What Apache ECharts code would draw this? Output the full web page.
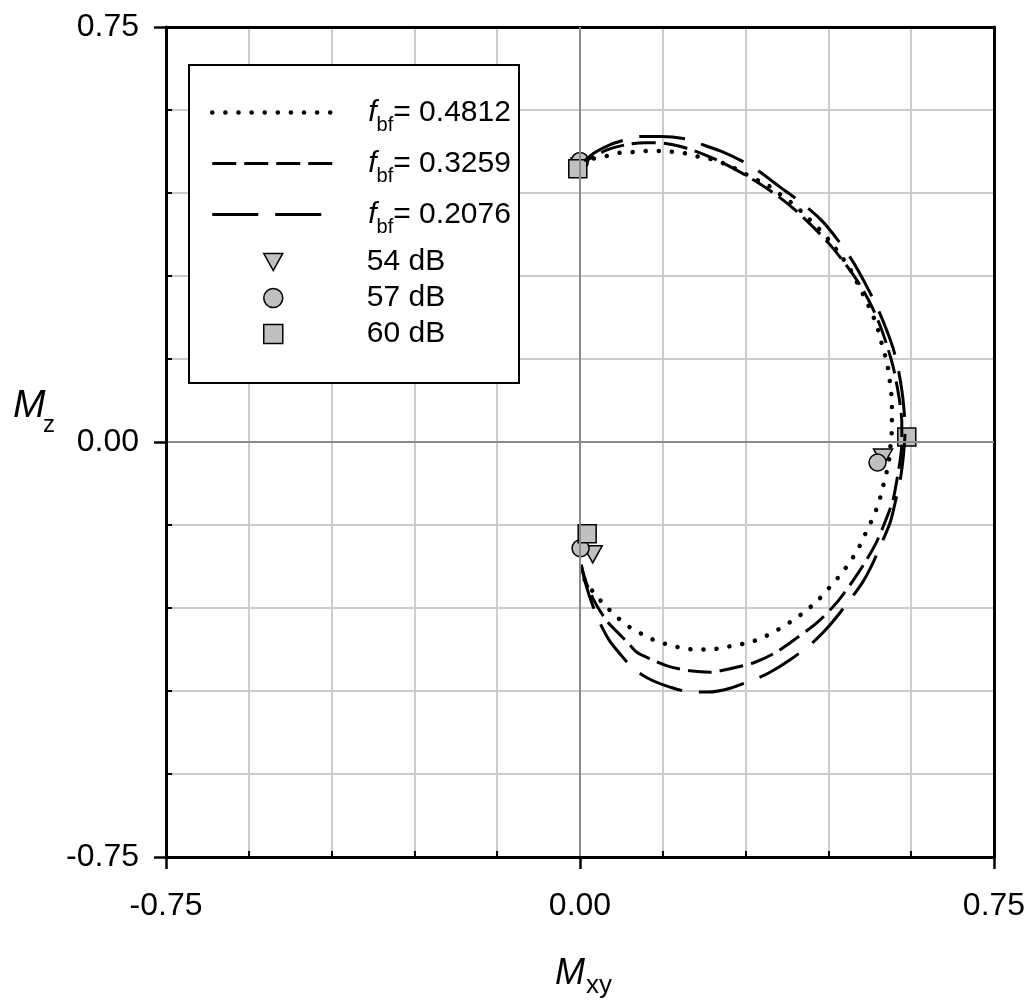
<!DOCTYPE html>
<html>
<head>
<meta charset="utf-8">
<script src="https://cdn.jsdelivr.net/npm/echarts@6/dist/echarts.min.js"></script>
<style>
html, body { margin: 0; padding: 0; background: #fff; }
#chart { width: 1031px; height: 1005px; }
</style>
</head>
<body>
<div id="chart"></div>
<script>
// axis range and steps
var axisMin = -0.75, axisMax = 0.75;
var majorStep = 0.75, minorStep = 0.15;

// legend labels
var fbfLabels = ['0.4812', '0.3259', '0.2076'];
var dbLabels = ['54 dB', '57 dB', '60 dB'];

// f_bf = 0.4812 (dotted)
var curve4812 = [
  [0.002,-0.226],[0.007,-0.246],[0.024,-0.271],[0.045,-0.295],[0.069,-0.318],[0.092,-0.336],
  [0.116,-0.349],[0.139,-0.360],[0.163,-0.367],[0.188,-0.373],[0.212,-0.375],[0.236,-0.375],
  [0.261,-0.371],[0.284,-0.367],[0.308,-0.362],[0.332,-0.353],[0.357,-0.340],[0.380,-0.326],
  [0.404,-0.309],[0.429,-0.288],[0.451,-0.264],[0.471,-0.241],[0.489,-0.217],[0.504,-0.193],
  [0.516,-0.168],[0.527,-0.145],[0.538,-0.119],[0.545,-0.096],[0.551,-0.072],[0.557,-0.048],
  [0.561,-0.024],[0.563,0.000],[0.565,0.024],[0.565,0.047],[0.565,0.072],[0.563,0.096],
  [0.560,0.119],[0.556,0.145],[0.549,0.168],[0.543,0.192],[0.536,0.215],[0.525,0.241],
  [0.514,0.264],[0.502,0.288],[0.489,0.313],[0.473,0.336],[0.455,0.360],[0.433,0.385],
  [0.409,0.409],[0.386,0.430],[0.362,0.448],[0.339,0.465],[0.313,0.477],[0.290,0.490],
  [0.266,0.501],[0.243,0.510],[0.217,0.515],[0.194,0.521],[0.170,0.524],[0.147,0.526],
  [0.121,0.526],[0.098,0.524],[0.074,0.523],[0.049,0.517],[0.024,0.512],[0.008,0.507]
];

// f_bf = 0.3259 (dashed)
var curve3259 = [
  [0.002,-0.222],[0.013,-0.259],[0.029,-0.293],[0.049,-0.324],[0.069,-0.345],[0.087,-0.363],
  [0.103,-0.380],[0.127,-0.392],[0.159,-0.405],[0.203,-0.414],[0.236,-0.416],[0.275,-0.409],
  [0.317,-0.398],[0.355,-0.380],[0.393,-0.354],[0.431,-0.325],[0.467,-0.288],[0.495,-0.250],
  [0.518,-0.215],[0.538,-0.179],[0.554,-0.141],[0.567,-0.105],[0.574,-0.069],[0.580,-0.033],
  [0.583,0.000],[0.583,0.034],[0.580,0.067],[0.574,0.103],[0.567,0.137],[0.556,0.175],
  [0.543,0.212],[0.527,0.248],[0.507,0.284],[0.482,0.320],[0.455,0.354],[0.424,0.387],
  [0.389,0.420],[0.355,0.447],[0.317,0.472],[0.277,0.495],[0.236,0.515],[0.196,0.530],
  [0.158,0.539],[0.118,0.541],[0.082,0.537],[0.049,0.528],[0.024,0.515],[0.008,0.508]
];

// f_bf = 0.2076 (long dashed)
var curve2076 = [
  [0.002,-0.222],[0.011,-0.259],[0.024,-0.298],[0.036,-0.327],[0.054,-0.360],[0.076,-0.387],
  [0.094,-0.407],[0.123,-0.427],[0.163,-0.443],[0.203,-0.452],[0.232,-0.452],[0.272,-0.445],
  [0.313,-0.430],[0.341,-0.418],[0.380,-0.394],[0.422,-0.362],[0.449,-0.335],[0.480,-0.297],
  [0.511,-0.255],[0.529,-0.222],[0.545,-0.186],[0.562,-0.145],[0.572,-0.105],[0.580,-0.069],
  [0.585,-0.033],[0.588,0.000],[0.589,0.022],[0.587,0.058],[0.583,0.094],[0.576,0.134],
  [0.567,0.170],[0.554,0.206],[0.538,0.244],[0.518,0.284],[0.495,0.325],[0.467,0.365],
  [0.438,0.400],[0.399,0.434],[0.362,0.461],[0.326,0.488],[0.293,0.508],[0.254,0.526],
  [0.217,0.539],[0.190,0.548],[0.145,0.552],[0.109,0.552],[0.082,0.546],[0.054,0.537],
  [0.027,0.523],[0.008,0.508]
];

// measured points
var points54 = [[0.001, 0.498], [0.549, -0.028], [0.023, -0.203]];
var points57 = [[0.000, 0.508], [0.539, -0.037], [0.001, -0.192]];
var points60 = [[-0.004, 0.494], [0.592, 0.009], [0.013, -0.166]];

var FONT = 'Arial, "Liberation Sans", sans-serif';
var lineNames = fbfLabels.map(function (v) { return 'fbf= ' + v; });

var chart = echarts.init(document.getElementById('chart'));

var gridPos = { left: 166, right: 37, top: 27, bottom: 148 };

function lineSeries(name, data, dash, width, cap) {
  return {
    name: name,
    type: 'line',
    xAxisIndex: 0,
    yAxisIndex: 0,
    data: data,
    symbol: 'none',
    smooth: 0.3,
    animation: false,
    color: '#000',
    lineStyle: { color: '#000', width: width, type: dash, cap: cap }
  };
}

function pointSeries(name, data, symbol, size) {
  return {
    name: name,
    type: 'scatter',
    xAxisIndex: 0,
    yAxisIndex: 0,
    data: data,
    symbol: symbol,
    symbolSize: size,
    animation: false,
    itemStyle: { color: '#c0c0c0', borderColor: '#000', borderWidth: 1.5, opacity: 1 }
  };
}

var dotted = lineSeries(lineNames[0], curve4812, [0.1, 13], 4.5, 'round');
dotted.markLine = {
  silent: true,
  symbol: 'none',
  label: { show: false },
  lineStyle: { color: '#8a8a8a', width: 2, type: 'solid' },
  data: [{ xAxis: 0 }, { yAxis: 0 }],
  animation: false
};

option = {
  backgroundColor: '#fff',
  animation: false,
  grid: [
    Object.assign({}, gridPos),
    Object.assign({}, gridPos)
  ],
  xAxis: [
    {
      type: 'value', gridIndex: 0, position: 'bottom', z: 5,
      min: axisMin, max: axisMax, interval: majorStep,
      axisLine: { show: true, onZero: false, lineStyle: { color: '#000', width: 3 } },
      axisTick: { show: true, inside: false, length: 12, lineStyle: { color: '#000', width: 2.5 } },
      axisLabel: { color: '#000', fontSize: 32, fontFamily: FONT, margin: 33,
        formatter: function (v) { return v.toFixed(2); } },
      splitLine: { show: false }
    },
    {
      type: 'value', gridIndex: 1, position: 'bottom',
      min: axisMin, max: axisMax, interval: minorStep,
      axisLine: { show: false, onZero: false },
      axisTick: { show: true, inside: true, length: 6, lineStyle: { color: '#000', width: 2 } },
      axisLabel: { show: false },
      splitLine: { show: true, showMinLine: false, showMaxLine: false, lineStyle: { color: '#cccccc', width: 2 } }
    },
    {
      type: 'value', gridIndex: 1, position: 'top',
      min: axisMin, max: axisMax, interval: majorStep,
      axisLine: { show: true, onZero: false, lineStyle: { color: '#000', width: 3 } },
      axisTick: { show: false }, axisLabel: { show: false }, splitLine: { show: false }
    }
  ],
  yAxis: [
    {
      type: 'value', gridIndex: 0, position: 'left', z: 5,
      min: axisMin, max: axisMax, interval: majorStep,
      axisLine: { show: true, onZero: false, lineStyle: { color: '#000', width: 3 } },
      axisTick: { show: true, inside: false, length: 12, lineStyle: { color: '#000', width: 2.5 } },
      axisLabel: { color: '#000', fontSize: 32, fontFamily: FONT, margin: 27,
        formatter: function (v) { return v.toFixed(2); } },
      splitLine: { show: false }
    },
    {
      type: 'value', gridIndex: 1, position: 'left',
      min: axisMin, max: axisMax, interval: minorStep,
      axisLine: { show: false, onZero: false },
      axisTick: { show: true, inside: true, length: 6, lineStyle: { color: '#000', width: 2 } },
      axisLabel: { show: false },
      splitLine: { show: true, showMinLine: false, showMaxLine: false, lineStyle: { color: '#cccccc', width: 2 } }
    },
    {
      type: 'value', gridIndex: 1, position: 'right',
      min: axisMin, max: axisMax, interval: majorStep,
      axisLine: { show: true, onZero: false, lineStyle: { color: '#000', width: 3 } },
      axisTick: { show: false }, axisLabel: { show: false }, splitLine: { show: false }
    }
  ],
  legend: [
    {
      data: lineNames,
      orient: 'vertical',
      left: 210, top: 90,
      padding: 0,
      itemWidth: 125, itemHeight: 14, itemGap: 6,
      selectedMode: false,
      z: 20,
      lineStyle: { width: 'inherit' },
      itemStyle: { opacity: 0, borderWidth: 0 },
      formatter: function (name) {
        return '{f|f}{s|bf}{n|= ' + name.split('= ')[1] + '}';
      },
      textStyle: {
        color: '#000', fontSize: 30, fontFamily: FONT, padding: [0, 0, 0, 26],
        rich: {
          f: { fontStyle: 'italic', fontSize: 30, fontFamily: FONT, lineHeight: 30, color: '#000' },
          s: { fontSize: 20, fontFamily: FONT, lineHeight: 20, padding: [25, 0, 0, 0], color: '#000' },
          n: { fontSize: 30, fontFamily: FONT, lineHeight: 30, color: '#000' }
        }
      }
    },
    {
      data: dbLabels,
      orient: 'vertical',
      left: 263, top: 247,
      padding: 0,
      itemWidth: 19, itemHeight: 19, itemGap: 6,
      selectedMode: false,
      z: 20,
      itemStyle: { borderWidth: 1.5, borderColor: '#000' },
      textStyle: { color: '#000', fontSize: 30, fontFamily: FONT, padding: [0, 0, 0, 79] }
    }
  ],
  graphic: [
    {
      type: 'rect', z: 15,
      shape: { x: 189, y: 65, width: 330, height: 318 },
      style: { fill: '#fff', stroke: '#000', lineWidth: 2 }
    },
    { type: 'text', z: 20, style: { text: 'M', x: 13, y: 406, font: 'italic 39px ' + FONT, fill: '#000', verticalAlign: 'middle' } },
    { type: 'text', z: 20, style: { text: 'z', x: 43, y: 425, font: '24px ' + FONT, fill: '#000', verticalAlign: 'middle' } },
    { type: 'text', z: 20, style: { text: 'M', x: 555, y: 974, font: 'italic 36px ' + FONT, fill: '#000', verticalAlign: 'middle' } },
    { type: 'text', z: 20, style: { text: 'xy', x: 586, y: 986, font: '26px ' + FONT, fill: '#000', verticalAlign: 'middle' } }
  ],
  series: [
    dotted,
    lineSeries(lineNames[1], curve3259, [24, 8], 3, 'butt'),
    lineSeries(lineNames[2], curve2076, [46, 17], 3, 'butt'),
    pointSeries(dbLabels[0], points54, 'path://M0,0L20,0L10,18Z', [19, 17]),
    pointSeries(dbLabels[1], points57, 'circle', 17),
    pointSeries(dbLabels[2], points60, 'path://M0,0L10,0L10,10L0,10Z', 18)
  ]
};

chart.setOption(option);
</script>
</body>
</html>
